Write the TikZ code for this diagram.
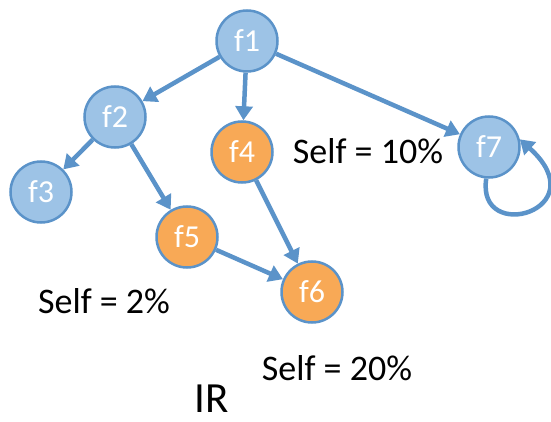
\documentclass[tikz,border=0pt]{standalone}
\usepackage{fontspec}
\setmainfont{Carlito}
\usetikzlibrary{arrows.meta}
\definecolor{nodeblue}{HTML}{9DC3E6}
\definecolor{edgeblue}{HTML}{5B93C9}
\definecolor{nodeorange}{HTML}{F8A956}
\begin{document}
\begin{tikzpicture}[x=1pt,y=-1pt,
  fn/.style={circle, draw=edgeblue, line width=2.5pt, minimum size=61pt, inner sep=0pt,
    text=white, font=\fontsize{32}{36}\selectfont},
  bluefn/.style={fn, fill=nodeblue},
  orangefn/.style={fn, fill=nodeorange},
  edgearrow/.style={draw=edgeblue, line width=4.5pt, -{Triangle[length=14pt,width=17pt]}},
  lbl/.style={font=\fontsize{36}{40}\selectfont, inner sep=0pt, anchor=center}]
\useasboundingbox (0,0) rectangle (551,422);
\node[bluefn] (f1) at (247,41) {f1};
\node[bluefn] (f2) at (115,117) {f2};
\node[bluefn] (f3) at (41,192) {f3};
\node[orangefn] (f4) at (242,152) {f4};
\node[orangefn] (f5) at (187,237) {f5};
\node[orangefn] (f6) at (312,292) {f6};
\node[bluefn] (f7) at (489,147) {f7};
\draw[edgearrow] (f1) -- (f2);
\draw[edgearrow] (f1) -- (f4);
\draw[edgearrow] (f1) -- (f7);
\draw[edgearrow] (f2) -- (f3);
\draw[edgearrow] (f2) -- (f5);
\draw[edgearrow] (f4) -- (f6);
\draw[edgearrow] (f5) -- (f6);
\draw[edgearrow] (f7.265) .. controls (476,245) and (598,210) .. (f7.14);
\node[lbl] (s10) at (368,151) {Self = 10\%};
\node[lbl] (s2) at (104,301) {Self = 2\%};
\node[lbl] (s20) at (337,368) {Self = 20\%};
\node[font=\fontsize{43}{48}\selectfont, inner sep=0pt] (ir) at (212,399) {IR};
\end{tikzpicture}
\end{document}
